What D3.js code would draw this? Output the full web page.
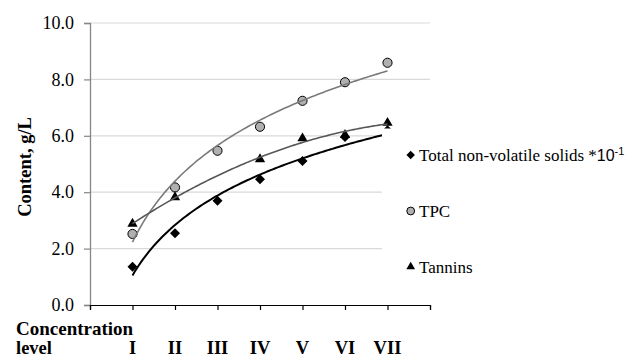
<!DOCTYPE html>
<html>
<head>
<meta charset="utf-8">
<script src="https://cdn.jsdelivr.net/npm/d3@7"></script>
<style>
  html, body { margin: 0; padding: 0; background: #fff; }
  svg { display: block; }
  .serif { font-family: "Liberation Serif", "Times New Roman", Tinos, "DejaVu Serif", serif; }
  .sans { font-family: "Liberation Sans", Arial, Arimo, sans-serif; }
</style>
</head>
<body>
<svg id="chart" width="630" height="357"></svg>
<script>
// Concentration levels (x positions 1..7) and their Roman labels
const levels = [1, 2, 3, 4, 5, 6, 7];
const levelLabels = ["I", "II", "III", "IV", "V", "VI", "VII"];

// Measured contents, g/L (null = not measured)
const solids = [1.36, 2.54, 3.70, 4.46, 5.11, 5.96, 6.20];   // total non-volatile solids ×10⁻¹
const tpc = [2.52, 4.17, 5.47, 6.32, 7.24, 7.90, 8.59];
const tannins = [2.88, 3.82, null, 5.17, 5.91, 6.03, 6.46];

const yTicks = [0, 2, 4, 6, 8, 10];

const svg = d3.select("#chart");

const x = d3.scaleLinear().domain([0, 8]).range([90, 430]);
const y = d3.scaleLinear().domain([0, 10]).range([305, 23]);

// ---- trendline fits -------------------------------------------------------
function pairs(vals) {
  return levels.map((l, i) => [l, vals[i]]).filter(d => d[1] != null);
}
function logFit(pts) {
  const lx = pts.map(d => Math.log(d[0]));
  const mx = d3.mean(lx), my = d3.mean(pts, d => d[1]);
  let sxy = 0, sxx = 0;
  pts.forEach((d, i) => { sxy += (lx[i] - mx) * (d[1] - my); sxx += (lx[i] - mx) ** 2; });
  const a = sxy / sxx, b = my - a * mx;
  return v => a * Math.log(v) + b;
}
function quadFit(pts) {
  // normal equations for y = c0 + c1 x + c2 x^2
  const S = k => d3.sum(pts, d => d[0] ** k);
  const T = k => d3.sum(pts, d => d[1] * d[0] ** k);
  const M = [[S(0), S(1), S(2), T(0)], [S(1), S(2), S(3), T(1)], [S(2), S(3), S(4), T(2)]];
  for (let c = 0; c < 3; c++) {
    for (let r = c + 1; r < 3; r++) {
      const f = M[r][c] / M[c][c];
      for (let k = c; k < 4; k++) M[r][k] -= f * M[c][k];
    }
  }
  const co = [0, 0, 0];
  for (let r = 2; r >= 0; r--) {
    let s = M[r][3];
    for (let k = r + 1; k < 3; k++) s -= M[r][k] * co[k];
    co[r] = s / M[r][r];
  }
  return v => co[0] + co[1] * v + co[2] * v * v;
}

const series = [
  { name: "solids", data: pairs(solids), fit: logFit(pairs(solids)), line: "#000000", lw: 2 },
  { name: "tpc", data: pairs(tpc), fit: logFit(pairs(tpc)), line: "#7a7a7a", lw: 1.6 },
  { name: "tannins", data: pairs(tannins), fit: quadFit(pairs(tannins)), line: "#575757", lw: 1.6 }
];

// ---- gridlines --------------------------------------------------------------
svg.append("g")
  .selectAll("line")
  .data(yTicks.filter(t => t > 0))
  .join("line")
  .attr("x1", x(0)).attr("x2", x(8))
  .attr("y1", d => y(d)).attr("y2", d => y(d))
  .attr("stroke", "#d9d9d9").attr("stroke-width", 1.2);

// ---- y axis -----------------------------------------------------------------
const yAxis = svg.append("g")
  .attr("transform", `translate(${x(0)},0)`)
  .call(d3.axisLeft(y).tickValues(yTicks).tickFormat(d3.format(".1f")).tickSize(6).tickPadding(10));
yAxis.attr("font-family", null).attr("font-size", null);
yAxis.select(".domain").attr("stroke", "#868686").attr("stroke-width", 1.3);
yAxis.selectAll(".tick line").attr("stroke", "#868686").attr("stroke-width", 1.2);
yAxis.selectAll(".tick text")
  .attr("class", "serif").style("font-size", "18px").attr("fill", "#000");

// ---- x axis -----------------------------------------------------------------
const xAxis = svg.append("g")
  .attr("transform", `translate(0,${y(0)})`)
  .call(d3.axisBottom(x).tickValues(d3.range(0, 9)).tickFormat("").tickSizeOuter(0).tickSize(5));
xAxis.select(".domain").attr("stroke", "#000").attr("stroke-width", 1.2);
xAxis.selectAll(".tick line").attr("stroke", "#000").attr("stroke-width", 1.2);

// ---- markers ----------------------------------------------------------------
const diamond = d3.symbol().type(d3.symbolSquare);
const circle = d3.symbol().type(d3.symbolCircle);
const triangle = d3.symbol().type(d3.symbolTriangle);

function drawMarker(g, name, cx, cy, k) {
  const s = k || 1;
  if (name === "solids") {
    g.append("path").attr("d", diamond.size(50 * s * s)())
      .attr("transform", `translate(${cx},${cy}) rotate(45)`).attr("fill", "#000");
  } else if (name === "tpc") {
    g.append("path").attr("d", circle.size(66 * s * s)())
      .attr("transform", `translate(${cx},${cy})`)
      .attr("fill", "#b0b0b0").attr("stroke", "#000").attr("stroke-width", 1);
  } else {
    g.append("path").attr("d", triangle.size(46 * s * s)())
      .attr("transform", `translate(${cx},${cy})`).attr("fill", "#000");
  }
}

const markG = svg.append("g");
series.forEach(s => {
  s.data.forEach(d => drawMarker(markG, s.name, x(d[0]), y(d[1])));
});

// ---- trendlines -------------------------------------------------------------
const line = d3.line().x(d => x(d[0])).y(d => y(d[1]));
series.forEach(s => {
  const pts = d3.range(1, 7.001, 0.05).map(v => [v, s.fit(v)]);
  svg.append("path")
    .attr("d", line(pts))
    .attr("fill", "none")
    .attr("stroke", s.line)
    .attr("stroke-width", s.lw);
});

// ---- legend -----------------------------------------------------------------
const lg = svg.append("g");
lg.append("rect").attr("x", 382).attr("y", 128.5).attr("width", 248).attr("height", 170).attr("fill", "#fff");

const legendRows = [
  { name: "solids", my: 155 },
  { name: "tpc", my: 211 },
  { name: "tannins", my: 266.7 }
];
legendRows.forEach(r => drawMarker(lg, r.name, 410.7, r.my, 0.85));

const t1 = lg.append("text").attr("x", 419).attr("y", 161)
  .attr("class", "serif").style("font-size", "17px").attr("fill", "#000");
t1.append("tspan").text("Total non-volatile solids *");
t1.append("tspan").attr("class", "sans").style("font-size", "16px").text("10");
t1.append("tspan").attr("class", "sans").style("font-size", "11px").attr("dy", -6).text("-1");

lg.append("text").attr("x", 419).attr("y", 217)
  .attr("class", "serif").style("font-size", "17px").text("TPC");
lg.append("text").attr("x", 419).attr("y", 272.5)
  .attr("class", "serif").style("font-size", "17px").text("Tannins");

// ---- axis titles and category labels ----------------------------------------
svg.append("text")
  .attr("transform", "translate(31,167) rotate(-90)")
  .attr("text-anchor", "middle")
  .attr("class", "serif").style("font-weight", "bold").style("font-size", "18.5px")
  .text("Content, g/L");

svg.append("text").attr("x", 16).attr("y", 335)
  .attr("class", "serif").style("font-weight", "bold").style("font-size", "19px")
  .text("Concentration");
svg.append("text").attr("x", 16).attr("y", 353.5)
  .attr("class", "serif").style("font-weight", "bold").style("font-size", "18.5px")
  .text("level");

svg.append("g")
  .selectAll("text")
  .data(levels)
  .join("text")
  .attr("x", d => x(d))
  .attr("y", 353.5)
  .attr("text-anchor", "middle")
  .attr("class", "serif").style("font-weight", "bold").style("font-size", "18.5px")
  .text((d, i) => levelLabels[i]);
</script>
</body>
</html>
